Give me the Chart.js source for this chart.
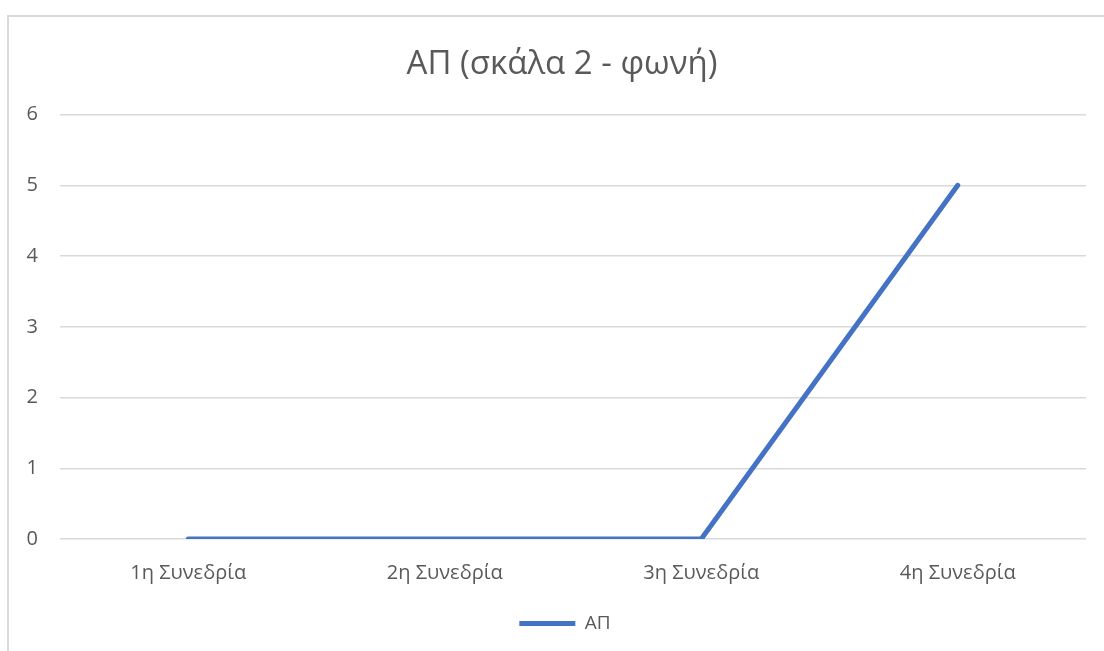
<!DOCTYPE html>
<html>
<head>
<meta charset="utf-8">
<script src="https://cdn.jsdelivr.net/npm/chart.js@4/dist/chart.umd.min.js"></script>
<style>
  html, body { margin: 0; padding: 0; background: #fff; overflow: hidden; }
  #wrap { position: relative; width: 1104px; height: 651px; }
  #frame { position: absolute; left: 7px; top: 15px; width: 1200px; height: 800px;
           border: 2px solid #d9d9d9; box-sizing: border-box; }
  #c { position: absolute; left: 0; top: 0; }
</style>
</head>
<body>
<div id="wrap">
  <div id="frame"></div>
  <canvas id="c" width="1104" height="651"></canvas>
</div>
<script>
const chartTitle = 'ΑΠ (σκάλα 2 - φωνή)';
const sessions = ['1η Συνεδρία', '2η Συνεδρία', '3η Συνεδρία', '4η Συνεδρία'];
const seriesName = 'ΑΠ';
const apValues = [0, 0, 0, 5];
const yTicks = [0, 1, 2, 3, 4, 5, 6];

const FONT = "'Open Sans', 'Noto Sans', sans-serif";
const TEXT = '#595959';

// Centre the title and legend on the whole frame rather than on the padded layout width.
const recentre = {
  id: 'recentre',
  afterLayout(chart) {
    if (chart.legend) { chart.legend.left += 22; chart.legend.right += 22; }
    if (chart.titleBlock) { chart.titleBlock.left += 19; chart.titleBlock.right += 19; }
  }
};

new Chart(document.getElementById('c'), {
  type: 'line',
  data: {
    labels: sessions,
    datasets: [{
      label: seriesName,
      data: apValues,
      borderColor: '#4472C4',
      backgroundColor: '#4472C4',
      borderWidth: 5,
      borderCapStyle: 'round',
      borderJoinStyle: 'round',
      pointRadius: 0,
      pointHoverRadius: 0,
      tension: 0
    }]
  },
  plugins: [recentre],
  options: {
    responsive: false,
    animation: false,
    layout: { padding: { top: 0, left: 0, right: 18, bottom: 8 } },
    plugins: {
      title: {
        display: true,
        text: chartTitle,
        color: TEXT,
        font: { family: FONT, size: 33, weight: 'normal' },
        padding: { top: 45, bottom: 30 }
      },
      legend: {
        position: 'bottom',
        labels: {
          color: TEXT,
          font: { family: FONT, size: 19 },
          usePointStyle: true,
          pointStyle: 'line',
          pointStyleWidth: 56,
          padding: 10
        }
      },
      tooltip: { enabled: false }
    },
    scales: {
      x: {
        offset: true,
        grid: { display: false },
        border: { display: false },
        ticks: { color: TEXT, font: { family: FONT, size: 20 }, padding: 14, maxRotation: 0 },
        afterFit: s => { s.height = 65; }
      },
      y: {
        min: 0,
        max: 6,
        afterBuildTicks: s => { s.ticks = yTicks.map(v => ({ value: v })); },
        grid: { color: '#d9d9d9', lineWidth: 1.5, drawTicks: false },
        border: { display: false },
        ticks: { color: TEXT, font: { family: FONT, size: 20 }, padding: 22 },
        afterFit: s => { s.width = 60; }
      }
    }
  }
});
</script>
</body>
</html>
